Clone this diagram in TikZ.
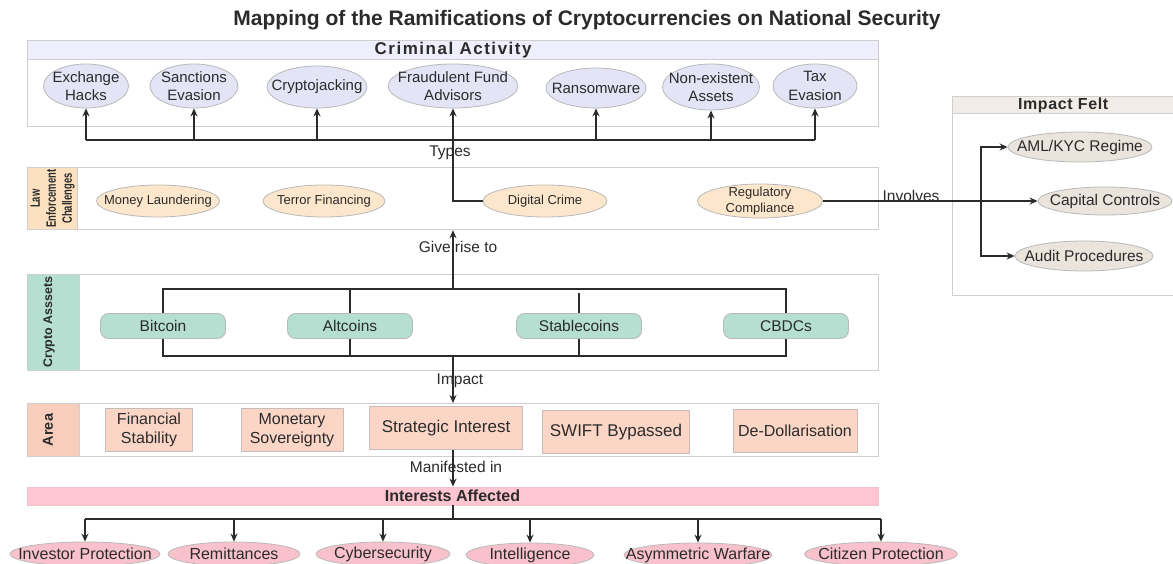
\documentclass[tikz,border=0pt]{standalone}
\usepackage{fontspec}
\setmainfont{Liberation Sans}
\usetikzlibrary{arrows.meta,positioning,calc,shapes.geometric}
\definecolor{ink}{HTML}{2B2B2B}
\definecolor{frame}{HTML}{CFCFCF}
\definecolor{rim}{HTML}{B9B9B9}
\definecolor{lavband}{HTML}{EEEEFC}
\definecolor{lavender}{HTML}{E4E4F7}
\definecolor{peach}{HTML}{FDE7CC}
\definecolor{peachtag}{HTML}{FCE1C0}
\definecolor{mint}{HTML}{B5DFD0}
\definecolor{salmon}{HTML}{FBD6C7}
\definecolor{salmontag}{HTML}{F9CDBB}
\definecolor{rose}{HTML}{FFC6D1}
\definecolor{roseell}{HTML}{F9C1CC}
\definecolor{stone}{HTML}{F1ECE6}
\definecolor{stoneell}{HTML}{EAE4DD}

\tikzset{
  lane/.style={draw=frame, line width=1.2pt, anchor=north west, inner sep=0pt},
  lanetag/.style={lane, draw=frame},
  tagtext/.style={rotate=90, align=center, text=ink,
                  font=\fontsize{13.5}{16}\selectfont\bfseries\addfontfeature{FakeStretch=0.7}},
  blob/.style={ellipse, draw=rim, line width=0.8pt, inner sep=0pt},
  crimetext/.style={align=center, text=ink, inner sep=0pt, font=\fontsize{15}{18.5}\selectfont},
  lawtext/.style={align=center, text=ink, inner sep=0pt, font=\fontsize{13}{16}\selectfont},
  felttext/.style={text=ink, inner sep=0pt, font=\fontsize{15.5}{18}\selectfont},
  intertext/.style={text=ink, inner sep=0pt, font=\fontsize{16}{18}\selectfont},
  crimeell/.style={blob, fill=lavender, minimum height=44pt, label={[crimetext]center:#1}},
  lawell/.style={blob, fill=peach, minimum height=32pt, minimum width=123pt, label={[lawtext]center:#1}},
  feltell/.style={blob, fill=stoneell, minimum height=30pt, label={[felttext]center:#1}},
  interell/.style={blob, fill=roseell, minimum height=24pt, label={[intertext]center:#1}},
  coinbox/.style={rectangle, rounded corners=8pt, draw=rim, fill=mint, line width=0.8pt,
                  minimum width=125pt, minimum height=25pt, text=ink,
                  font=\fontsize{15.5}{18}\selectfont},
  areabox/.style={rectangle, draw=rim!80!salmontag, fill=salmon, line width=0.8pt,
                  minimum height=43pt, inner sep=0pt, align=center, text=ink,
                  font=\fontsize{16}{19}\selectfont},
  wire/.style={draw=ink, line width=1.3pt},
  tip/.style={-{Stealth[length=8pt,width=7pt]}},
  edgetext/.style={text=ink, font=\fontsize{15.5}{18}\selectfont, inner sep=1pt},
  headtext/.style={text=ink, font=\fontsize{17}{19}\selectfont\bfseries\addfontfeature{LetterSpace=9}}
}

\begin{document}
\begin{tikzpicture}[x=1pt, y=-1pt]
  \fill[white] (0,0) rectangle (1173,564);
  \useasboundingbox (0,0) rectangle (1173,564);

  \node[text=ink, font=\fontsize{21}{24}\selectfont\bfseries] (title) at (587,20)
    {Mapping of the Ramifications of Cryptocurrencies on National Security};

  % criminal activity lane
  \node[lane, minimum width=851pt, minimum height=86pt] (crimelane) at (27,40) {};
  \node[lane, fill=lavband, minimum width=851pt, minimum height=19pt] (crimehead) at (27,40) {};
  \node[headtext] (crimetitle) at (crimehead.center) {Criminal Activity};

  \node[crimeell={Exchange\\Hacks}, minimum width=85pt]  (hacks)     at (86,86)  {};
  \node[crimeell={Sanctions\\Evasion}, minimum width=88pt]  (sanctions) at (194,86) {};
  \node[crimeell={Cryptojacking}, minimum width=100pt, minimum height=42pt] (jacking) at (317,87) {};
  \node[crimeell={Fraudulent Fund\\Advisors}, minimum width=130pt] (fraud) at (453,86) {};
  \node[crimeell={Ransomware}, minimum width=100pt, minimum height=40pt] (ransom) at (596,88) {};
  \node[crimeell={Non-existent\\Assets}, minimum width=97pt, minimum height=46pt] (fake) at (711,87) {};
  \node[crimeell={Tax\\Evasion}, minimum width=84pt]  (taxev)     at (815,86) {};

  \coordinate (typesrail) at (453,140);
  \draw[wire] (hacks.south |- typesrail) -- (taxev.south |- typesrail);
  \draw[wire,tip] (hacks.south |- typesrail) -- (hacks.south);
  \draw[wire,tip] (sanctions.south |- typesrail) -- (sanctions.south);
  \draw[wire,tip] (jacking.south |- typesrail) -- (jacking.south);
  \draw[wire,tip] (ransom.south |- typesrail) -- (ransom.south);
  \draw[wire,tip] (fake.south |- typesrail) -- (fake.south);
  \draw[wire,tip] (taxev.south |- typesrail) -- (taxev.south);

  % law enforcement lane
  \node[lane, minimum width=851pt, minimum height=62pt] (lawlane) at (27,167) {};
  \node[lanetag, fill=peachtag, minimum width=50pt, minimum height=62pt] (lawtag) at (27,167) {};
  \node[tagtext] (lawtext) at (lawtag.center) {Law\\Enforcement\\Challenges};

  \node[lawell={Money Laundering}] (laundering) at (158,201) {};
  \node[lawell={Terror Financing}, minimum width=122pt] (terror) at (324,201) {};
  \node[lawell={Digital Crime}, minimum width=124pt] (digital) at (545,201) {};
  \node[lawell={Regulatory\\Compliance}, minimum width=125pt, minimum height=34pt] (regcomp) at (760,201) {};

  \draw[wire,tip] (digital.west) -| (fraud.south);
  \node[edgetext] (typeslabel) at (450,153) {Types};

  % impact felt lane
  \node[lane, minimum width=221pt, minimum height=199pt] (feltlane) at (952,96) {};
  \node[lane, fill=stone, minimum width=221pt, minimum height=17pt] (felthead) at (952,96) {};
  \node[headtext, font=\fontsize{16}{18}\selectfont\bfseries\addfontfeature{LetterSpace=4}] (felttitle) at (felthead.center) {Impact Felt};

  \node[feltell={AML/KYC Regime}, minimum width=144pt] (amlkyc) at (1080,147) {};
  \node[feltell={Capital Controls}, minimum width=134pt, minimum height=28pt] (capctl) at (1105,201) {};
  \node[feltell={Audit Procedures}, minimum width=138pt] (audit) at (1084,256) {};

  \draw[wire,tip] (regcomp.east) -- (capctl.west);
  \node[edgetext] (involves) at (911,196) {Involves};
  \coordinate (fork) at (981,201);
  \draw[wire,tip] (fork) |- (amlkyc.west);
  \draw[wire,tip] (fork) |- (audit.west);

  % crypto assets lane
  \node[lane, minimum width=851pt, minimum height=96pt] (coinlane) at (27,274) {};
  \node[lanetag, fill=mint, minimum width=52pt, minimum height=96pt] (cointag) at (27,274) {};
  \node[tagtext, font=\fontsize{12.5}{15}\selectfont\bfseries] (cointext) at (49,322) {Crypto Asssets};

  \node[coinbox] (bitcoin)  at (163,326) {Bitcoin};
  \node[coinbox] (altcoins) at (350,326) {Altcoins};
  \node[coinbox] (stable)   at (579,326) {Stablecoins};
  \node[coinbox] (cbdcs)    at (786,326) {CBDCs};

  \coordinate (coinstop) at (453,289);
  \coordinate (coinsbot) at (453,356);
  \draw[wire] (bitcoin.north) -- (bitcoin.north |- coinstop) -- (cbdcs.north |- coinstop) -- (cbdcs.north);
  \draw[wire] (bitcoin.south) -- (bitcoin.south |- coinsbot) -- (cbdcs.south |- coinsbot) -- (cbdcs.south);
  \draw[wire] (altcoins.north) -- (altcoins.north |- coinstop);
  \draw[wire] (altcoins.south) -- (altcoins.south |- coinsbot);
  \draw[wire] (stable.north) -- ++(0,-20);
  \draw[wire] (stable.south) -- (stable.south |- coinsbot);

  \draw[wire,tip] (coinstop) -- (lawlane.south -| coinstop);
  \node[edgetext] (riselabel) at (458,247) {Give rise to};

  % area lane
  \node[lane, minimum width=851pt, minimum height=53pt] (arealane) at (27,403) {};
  \node[lanetag, fill=salmontag, minimum width=52pt, minimum height=53pt] (areatag) at (27,403) {};
  \node[tagtext, font=\fontsize{14.5}{16}\selectfont\bfseries] (areatext) at (48,430) {Area};

  \draw[wire,tip] (coinsbot) -- (arealane.north -| coinsbot);
  \node[edgetext] (impactlabel) at (460,381) {Impact};

  \node[areabox, minimum width=87pt]  (finstab)  at (149,430) {Financial\\Stability};
  \node[areabox, minimum width=102pt] (monsov)   at (292,430) {Monetary\\Sovereignty};
  \node[areabox, minimum width=153pt, font=\fontsize{17}{19}\selectfont] (strat) at (446,428) {Strategic Interest};
  \node[areabox, minimum width=147pt, font=\fontsize{17}{19}\selectfont] (swift) at (616,432) {SWIFT Bypassed};
  \node[areabox, minimum width=124pt] (dedollar) at (795,431) {De-Dollarisation};

  % interests affected
  \node[lane, anchor=center, fill=rose, draw=rose!80!rim, line width=0.8pt, minimum width=851pt, minimum height=18pt,
        text=ink, font=\fontsize{16}{18}\selectfont\bfseries] (interbar) at (452.5,496) {Interests Affected};

  \draw[wire,tip] (strat.south -| coinsbot) -- (interbar.north -| coinsbot);
  \node[edgetext] (manifest) at (456,467) {Manifested in};

  \node[interell={Investor Protection}, minimum width=150pt] (investor)   at (85,554)  {};
  \node[interell={Remittances}, minimum width=132pt]         (remit)      at (234,554) {};
  \node[interell={Cybersecurity}, minimum width=134pt]       (cyber)      at (383,554) {};
  \node[interell={Intelligence}, minimum width=128pt]        (intel)      at (530,555) {};
  \node[interell={Asymmetric Warfare}, minimum width=148pt]  (asymmetric) at (698,555) {};
  \node[interell={Citizen Protection}, minimum width=153pt]  (citizen)    at (881,554) {};

  \coordinate (interrail) at (453,519);
  \draw[wire] (interbar.south -| interrail) -- (interrail);
  \draw[wire] (investor.north |- interrail) -- (citizen.north |- interrail);
  \draw[wire,tip] (investor.north |- interrail) -- (investor.north);
  \draw[wire,tip] (remit.north |- interrail) -- (remit.north);
  \draw[wire,tip] (cyber.north |- interrail) -- (cyber.north);
  \draw[wire,tip] (intel.north |- interrail) -- (intel.north);
  \draw[wire,tip] (asymmetric.north |- interrail) -- (asymmetric.north);
  \draw[wire,tip] (citizen.north |- interrail) -- (citizen.north);
\end{tikzpicture}
\end{document}
